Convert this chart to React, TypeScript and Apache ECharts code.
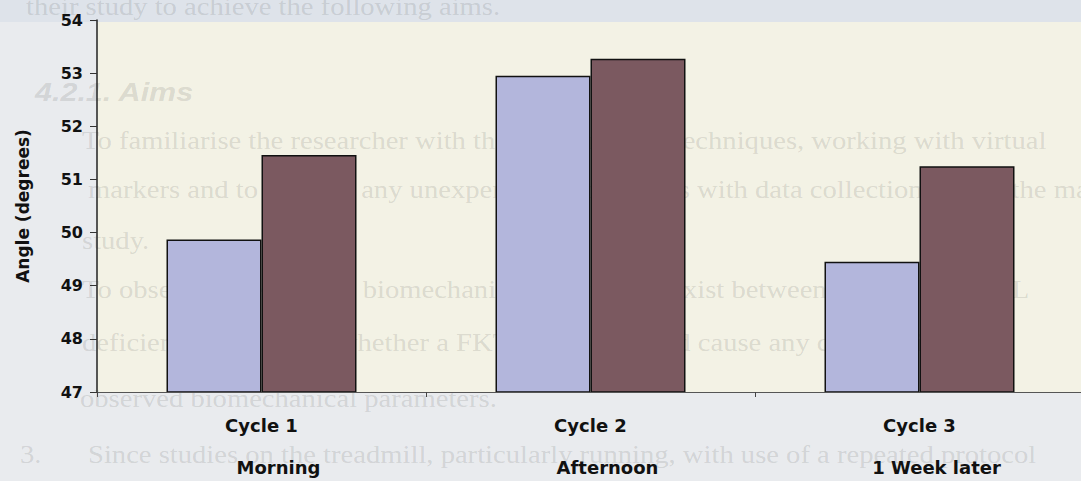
import React, { useEffect, useRef } from "react";
import * as echarts from "echarts";

const categories = ["Cycle 1", "Cycle 2", "Cycle 3"];
const sessions = ["Morning", "Afternoon", "1 Week later"];
const seriesA = [49.87, 52.95, 49.45];
const seriesB = [51.46, 53.27, 51.25];
const yMin = 47;
const yMax = 54;
const yInterval = 1;
const yTitle = "Angle (degrees)";

const pageLines = [
  { text: "their study to achieve the following aims.", x: 26, y: 6, kind: "body" },
  { text: "4.2.1. Aims", x: 35, y: 92, kind: "head" },
  { text: "To familiarise the researcher with the measurement techniques, working with virtual", x: 82, y: 140, kind: "body" },
  { text: "markers and to identify any unexperienced problems with data collection during the main", x: 88, y: 189, kind: "body" },
  { text: "study.", x: 82, y: 240, kind: "body" },
  { text: "To observe whether any biomechanical differences exist between healthy and ACL", x: 82, y: 289, kind: "body" },
  { text: "deficient subjects and whether a FKT protocol would cause any changes in the", x: 82, y: 342, kind: "body" },
  { text: "observed biomechanical parameters.", x: 80, y: 398, kind: "body" },
  { text: "3.", x: 20, y: 454, kind: "body" },
  { text: "Since studies on the treadmill, particularly running, with use of a repeated protocol", x: 88, y: 454, kind: "body" },
];

export default function App() {
  const ref = useRef<HTMLDivElement>(null);
  useEffect(() => {
    if (!ref.current) return;
    const chart = echarts.init(ref.current, null, { renderer: "svg" });
    const font = '"DejaVu Sans", sans-serif';
    const graphics: any[] = [
      { type: "rect", z: 0, z2: 0, shape: { x: 0, y: 0, width: 1100, height: 481 }, style: { fill: "#e9ebee" }, silent: true },
      { type: "rect", z: 0, z2: 1, shape: { x: 0, y: 0, width: 1100, height: 22 }, style: { fill: "#dee3ea" }, silent: true },
      { type: "rect", z: 0, z2: 2, shape: { x: 97, y: 22, width: 1003, height: 370 }, style: { fill: "#f3f2e5" }, silent: true },
    ];
    pageLines.forEach((l) => {
      const head = l.kind === "head";
      graphics.push({
        type: "text",
        z: 0,
        z2: 5,
        x: l.x,
        y: l.y,
        scaleX: head ? 1.22 : 1.1,
        silent: true,
        style: {
          text: l.text,
          font: head ? 'italic bold 25px "Liberation Sans"' : '26px "Liberation Serif"',
          fill: "rgba(60,60,60,0.15)",
          textVerticalAlign: "middle",
          verticalAlign: "middle",
        },
      });
    });
    chart.setOption({
      animation: false,
      backgroundColor: "transparent",
      graphic: { elements: graphics },
      grid: { left: 97, right: 16, top: 20, bottom: 89, containLabel: false },
      xAxis: {
        type: "category",
        z: 6,
        data: categories,
        axisLine: { show: true, lineStyle: { color: "#555", width: 1 } },
        axisTick: { show: true, length: 5, lineStyle: { color: "#444" } },
        axisLabel: {
          margin: 12,
          formatter: (v: string, i: number) => `{a|${v}}\n{b|${sessions[i]}}`,
          rich: {
            a: { fontFamily: font, fontWeight: "bold", fontSize: 18, color: "#111", lineHeight: 42 },
            b: { fontFamily: font, fontWeight: "bold", fontSize: 18, color: "#111", lineHeight: 42, padding: [0, 0, 0, 34] },
          },
        },
      },
      yAxis: {
        type: "value",
        z: 6,
        min: yMin,
        max: yMax,
        interval: yInterval,
        name: yTitle,
        nameLocation: "middle",
        nameRotate: 90,
        nameGap: 66,
        nameTextStyle: { fontFamily: font, fontWeight: "bold", fontSize: 17, color: "#111" },
        axisLine: { show: true, lineStyle: { color: "#222", width: 1.5 } },
        axisTick: { show: true, inside: false, length: 7, lineStyle: { color: "#333" } },
        splitLine: { show: false },
        axisLabel: { margin: 14, fontFamily: font, fontWeight: "bold", fontSize: 16, color: "#111" },
      },
      series: [
        {
          type: "bar",
          z: 4,
          data: seriesA,
          barWidth: 95,
          barGap: "0%",
          itemStyle: { color: "#b3b6dc", borderColor: "#111", borderWidth: 1.5 },
        },
        {
          type: "bar",
          z: 4,
          data: seriesB,
          barWidth: 95,
          barGap: "0%",
          itemStyle: { color: "#7b5960", borderColor: "#111", borderWidth: 1.5 },
        },
      ],
    });
    return () => chart.dispose();
  }, []);
  return (
    <div style={{ position: "absolute", left: 0, top: 0, width: 1081, height: 481, overflow: "hidden" }}>
      <div ref={ref} style={{ width: 1100, height: 481 }} />
    </div>
  );
}
